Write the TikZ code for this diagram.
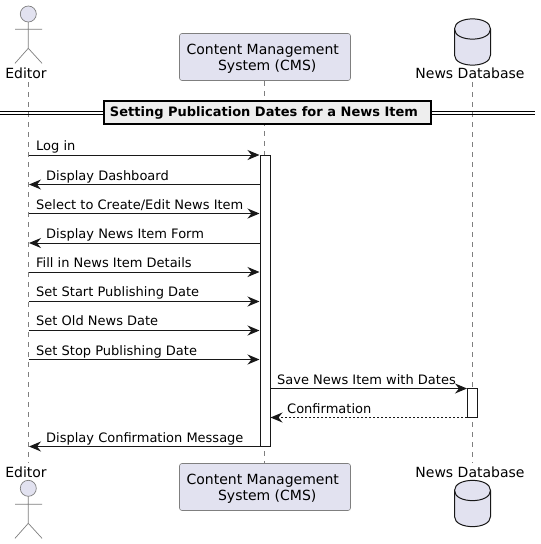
\documentclass[tikz,border=0pt]{standalone}
\usepackage{fontspec}
\setmainfont{DejaVu Sans}
\usetikzlibrary{arrows.meta}
\definecolor{partfill}{HTML}{E2E2F0}
\definecolor{partline}{HTML}{7F7F7F}
\definecolor{lifeline}{HTML}{7F7F7F}
\definecolor{ink}{HTML}{181818}
\definecolor{divfill}{HTML}{EEEEEE}
\tikzset{
  lifedash/.style={draw=lifeline,line width=0.6pt,dash pattern=on 5pt off 5pt},
  msg/.style={draw=ink,line width=1pt,-{Stealth[length=12pt,width=10pt,inset=4pt,fill=ink]}},
  reply/.style={msg,dash pattern=on 2pt off 2pt},
  msgtext/.style={inner sep=0pt,anchor=base west,font=\fontsize{13}{15}\selectfont,text=black},
  parttext/.style={inner sep=0pt,anchor=base,font=\fontsize{14}{16.3}\selectfont,text=black},
  partbox/.style={draw=partline,fill=partfill,rounded corners=2.5pt,line width=0.6pt,minimum width=171pt,minimum height=47pt,inner sep=0pt,align=center,font=\fontsize{14}{16.3}\selectfont},
  activation/.style={draw=ink,fill=white,line width=1pt,minimum width=10pt,inner sep=0pt},
  actorhead/.style={draw=partline,line width=0.7pt,fill=partfill},
  actorline/.style={draw=partline,line width=0.7pt},
  dbshape/.style={draw=ink,line width=1pt,fill=partfill},
  divbox/.style={draw=black,fill=divfill,line width=2pt,inner sep=0pt,minimum width=327pt,minimum height=23pt,font=\fontsize{13}{15}\selectfont\bfseries},
  divline/.style={draw=black,line width=1pt}
}
\begin{document}
\begin{tikzpicture}[x=1pt,y=-1pt]
\useasboundingbox (0,0) rectangle (541,544);
\fill[white] (0,0) rectangle (541,544);
% lifeline anchors
\coordinate (edTop) at (28.5,82);
\coordinate (edBot) at (28.5,463);
\coordinate (cmsTop) at (264.5,81);
\coordinate (cmsBot) at (264.5,463);
\coordinate (dbTop) at (472.5,82);
\coordinate (dbBot) at (472.5,463);
\draw[lifedash] (edTop) -- (edBot);
\draw[lifedash] (cmsTop) -- (cmsBot);
\draw[lifedash] (dbTop) -- (dbBot);
% message rows
\coordinate (r1) at (0,155);
\coordinate (r2) at (0,184.5);
\coordinate (r3) at (0,213.5);
\coordinate (r4) at (0,243);
\coordinate (r5) at (0,272);
\coordinate (r6) at (0,301.5);
\coordinate (r7) at (0,330.5);
\coordinate (r8) at (0,359.5);
\coordinate (r9) at (0,388.5);
\coordinate (r10) at (0,417.5);
\coordinate (r11) at (0,446.5);
% divider
\coordinate (divL) at (0,112.5);
\coordinate (divR) at (535,112.5);
\node[divbox] (div) at (267.5,112.5) {Setting Publication Dates for a News Item\hspace*{7pt}};
\draw[divline] ([yshift=-1.5pt]divL) -- ([yshift=-1.5pt]div.west);
\draw[divline] ([yshift=1.5pt]divL) -- ([yshift=1.5pt]div.west);
\draw[divline] ([yshift=-1.5pt]div.east) -- ([yshift=-1.5pt]divR);
\draw[divline] ([yshift=1.5pt]div.east) -- ([yshift=1.5pt]divR);
% activations
\node[activation,minimum height=291.5pt] (actC) at (265,300.75) {};
\node[activation,minimum height=29pt] (actD) at (472.5,403) {};
% messages
\coordinate (edIn) at (29,0);
\draw[msg] (edTop |- r1) -- (actC.west |- r1);
\draw[msg] (actC.west |- r2) -- (edIn |- r2);
\draw[msg] (edTop |- r3) -- (actC.west |- r3);
\draw[msg] (actC.west |- r4) -- (edIn |- r4);
\draw[msg] (edTop |- r5) -- (actC.west |- r5);
\draw[msg] (edTop |- r6) -- (actC.west |- r6);
\draw[msg] (edTop |- r7) -- (actC.west |- r7);
\draw[msg] (edTop |- r8) -- (actC.west |- r8);
\draw[msg] (actC.east |- r9) -- (actD.west |- r9);
\draw[reply] (actD.west |- r10) -- (actC.east |- r10);
\draw[msg] (actC.west |- r11) -- (edIn |- r11);
% message labels
\node[msgtext] (t1) at (36,150) {Log in};
\node[msgtext] (t2) at (46,180) {Display Dashboard};
\node[msgtext] (t3) at (36,209) {Select to Create/Edit News Item};
\node[msgtext] (t4) at (46,238) {Display News Item Form};
\node[msgtext] (t5) at (36,267) {Fill in News Item Details};
\node[msgtext] (t6) at (36,296) {Set Start Publishing Date};
\node[msgtext] (t7) at (36,325) {Set Old News Date};
\node[msgtext] (t8) at (36,355) {Set Stop Publishing Date};
\node[msgtext] (t9) at (277,384) {Save News Item with Dates};
\node[msgtext] (t10) at (287,413) {Confirmation};
\node[msgtext] (t11) at (46,442) {Display Confirmation Message};
% top participants
\draw[actorhead] (28.3,14) circle (8);
\draw[actorline] (28.3,22) -- (28.3,48.3) (15,29.3) -- (42,29.3) (15,63.3) -- (28.3,48.3) -- (42,63.3);
\node[parttext] (edT) at (26,78) {Editor};
\node[partbox] (cmsT) at (265,57) {\rule{0pt}{14pt}Content Management\hspace*{4.5pt}\\\hspace*{4.5pt}System (CMS)};
\draw[dbshape] (454.5,29) .. controls (454.5,15.5) and (490.5,15.5) .. (490.5,29) -- (490.5,55) .. controls (490.5,68.5) and (454.5,68.5) .. (454.5,55) -- cycle;
\draw[dbshape,fill=none] (454.5,29) .. controls (454.5,42.5) and (490.5,42.5) .. (490.5,29);
\node[parttext] (dbT) at (470,78) {News Database};
% bottom participants
\node[parttext] (edB) at (26,477) {Editor};
\draw[actorhead] (28.3,488.3) circle (8);
\draw[actorline] (28.3,496.3) -- (28.3,523.3) (15,504.3) -- (42,504.3) (15,538.3) -- (28.3,523.3) -- (42,538.3);
\node[partbox] (cmsB) at (265,487) {\rule{0pt}{14pt}Content Management\hspace*{4.5pt}\\\hspace*{4.5pt}System (CMS)};
\node[parttext] (dbB) at (470,477) {News Database};
\draw[dbshape] (454.5,490.5) .. controls (454.5,477) and (490.5,477) .. (490.5,490.5) -- (490.5,516.5) .. controls (490.5,530) and (454.5,530) .. (454.5,516.5) -- cycle;
\draw[dbshape,fill=none] (454.5,490.5) .. controls (454.5,504) and (490.5,504) .. (490.5,490.5);
\end{tikzpicture}
\end{document}
